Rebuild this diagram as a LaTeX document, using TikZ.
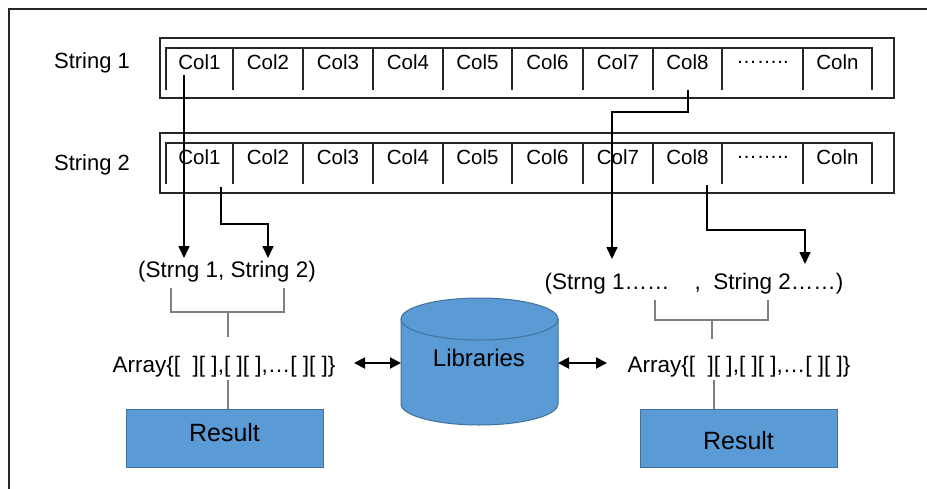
\documentclass[tikz,border=0pt]{standalone}
\usepackage{fontspec}
\setmainfont{Liberation Sans}
\usetikzlibrary{arrows.meta}
\definecolor{boxblue}{HTML}{5B9BD5}
\definecolor{boxedge}{HTML}{41719C}
\definecolor{brkgray}{HTML}{7F7F7F}
\begin{document}
\begin{tikzpicture}[x=1pt,y=-1pt,
  lbl/.style={inner sep=0pt,font=\fontsize{22}{26}\selectfont},
  coltxt/.style={inner sep=0pt,font=\fontsize{20.5}{24}\selectfont},
  pairtxt/.style={inner sep=0pt,font=\fontsize{22.5}{26}\selectfont},
  arrtxt/.style={inner sep=0pt,font=\fontsize{22.5}{26}\selectfont},
  resbox/.style={draw=boxedge,fill=boxblue,line width=1pt,minimum width=197pt,minimum height=58pt,inner sep=0pt,font=\fontsize{25}{30}\selectfont},
  frameline/.style={line width=1.6pt,black!85},
  rowline/.style={line width=1.3pt,black!85},
  arr/.style={line width=1.6pt,-{Triangle[length=12pt,width=11pt]}},
  darr/.style={line width=1.9pt,{Triangle[length=11pt,width=11pt]}-{Triangle[length=11pt,width=11pt]}},
  brk/.style={line width=1.6pt,brkgray}
]
\useasboundingbox (0,0) rectangle (927,488);
\fill[white] (0,0) rectangle (927,488);
\draw[frameline] (9,492) -- (9,9) -- (931,9);

% row labels
\node[lbl] (str1) at (92,63) {String 1};
\node[lbl] (str2) at (92,165) {String 2};

% string rows
\foreach \r/\top/\itop/\ibot/\ty in {1/38/48/90/62, 2/133/143/184/157}{
  \draw[rowline] (160,\top) rectangle (894,\top+60);
  \draw[rowline] (166,\ibot) -- (166,\itop) -- (872,\itop) -- (872,\ibot);
  \foreach \x in {233,303,373,443,512,583,653,722,803}{
    \draw[rowline] (\x,\itop) -- (\x,\ibot);
  }
  \foreach \a/\b/\t [count=\i] in {166/233/Col1,233/303/Col2,303/373/Col3,373/443/Col4,443/512/Col5,512/583/Col6,583/653/Col7,653/722/Col8,722/803/……..,803/872/Coln}{
    \node[coltxt] (r\r c\i) at ({(\a+\b)/2},\ty) {\t};
  }
}

% middle labels
\node[pairtxt] (pair1) at (227,272) {(Strng 1, String 2)};
\node[pairtxt] (pair2) at (694,284) {(Strng 1……\ \ \ \ ,\ \ String 2……)};

\node[arrtxt] (arr1) at (224,367) {Array\{[\ \ ][ ],[ ][ ],…[ ][ ]\}};
\node[arrtxt] (arr2) at (739,367) {Array\{[\ \ ][ ],[ ][ ],…[ ][ ]\}};

\node[resbox] (res1) at (224.5,438) {\raisebox{5pt}[\height][\depth]{Result}};
\node[resbox] (res2) at (738.5,438) {\raisebox{-3pt}[\height][\depth]{Result}};

% cylinder
\path[fill=boxblue,draw=boxedge,line width=1pt] (401,319) -- (401,404)
  arc[start angle=180,end angle=0,x radius=78.5,y radius=21] -- (558,319)
  arc[start angle=0,end angle=-180,x radius=78.5,y radius=21] -- cycle;
\draw[boxedge,line width=1pt] (401,319) arc[start angle=180,end angle=0,x radius=78.5,y radius=21];
\node[inner sep=0pt,font=\fontsize{24}{28}\selectfont] (lib) at (479,358) {Libraries};
\coordinate (libW) at (401,363);
\coordinate (libE) at (558,363);

% arrows from strings
\coordinate (s1a) at (184,75);
\coordinate (s2a) at (221,187);
\coordinate (s1b) at (688,90);
\coordinate (s2b) at (707,185);
\coordinate (p1a) at (184,258);
\coordinate (p1b) at (268,258);
\coordinate (p2a) at (612,259);
\coordinate (p2b) at (805,264);

\draw[arr] (s1a) -- (p1a);
\draw[arr] (s2a) |- (p1b |- 0,224) -- (p1b);
\draw[arr] (s1b) |- (p2a |- 0,112) -- (p2a);
\draw[arr] (s2b) |- (p2b |- 0,230) -- (p2b);

% brackets
\draw[brk] (171,288) -- (171,312) -- (284,312) -- (284,288);
\draw[brk] (228,312) -- (228,337);
\draw[brk] (228,380) -- (res1.north -| 228,0);
\draw[brk] (655,300) -- (655,320) -- (768,320) -- (768,300);
\draw[brk] (712,320) -- (712,339);
\draw[brk] (714,380) -- (res2.north -| 714,0);

% double arrows
\coordinate (dA) at (354,363);
\coordinate (dB) at (607,363);
\draw[darr] (dA) -- (libW);
\draw[darr] (libE) -- (dB);
\end{tikzpicture}
\end{document}
